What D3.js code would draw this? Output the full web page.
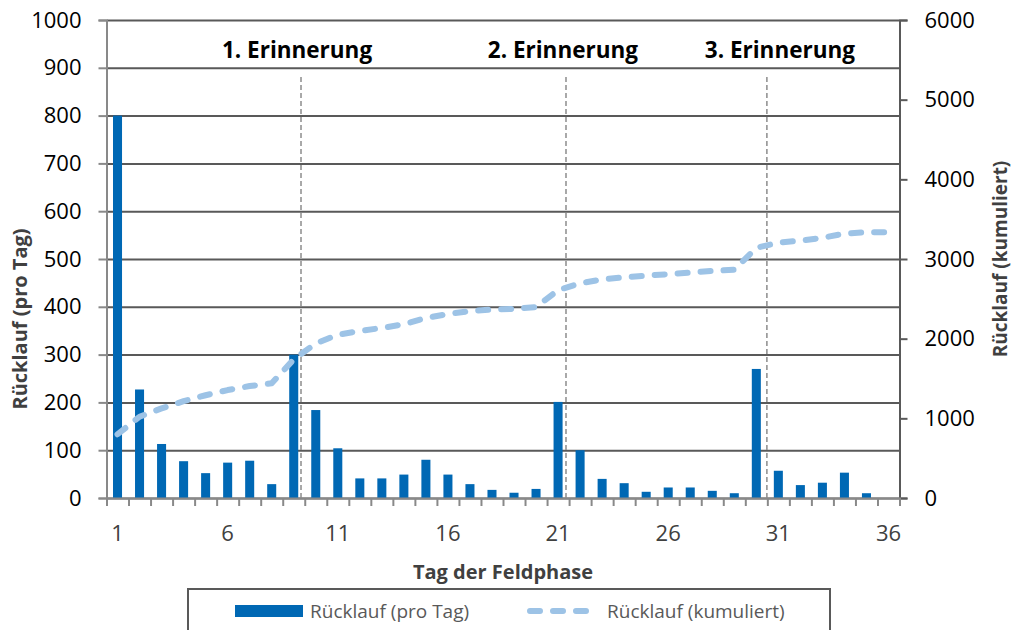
<!DOCTYPE html>
<html>
<head>
<meta charset="utf-8">
<script src="https://cdn.jsdelivr.net/npm/d3@7"></script>
<style>
  body { margin: 0; background: #fff; }
  svg { font-family: "Open Sans", sans-serif; }
</style>
</head>
<body>
<svg width="1014" height="630"></svg>
<script>
//days of the field phase (categories)
const days = [1, 2, 3, 4, 5, 6, 7, 8, 9, 10, 11, 12, 13, 14, 15, 16, 17, 18,
    19, 20, 21, 22, 23, 24, 25, 26, 27, 28, 29, 30, 31, 32, 33, 34, 35, 36];

//responses per day (left axis)
const perDay = [800, 227, 113, 77, 52, 74, 78, 29, 300, 184, 104, 41, 41, 49, 80, 49, 29, 17,
    11, 19, 201, 100, 40, 31, 13, 22, 22, 15, 10, 270, 57, 27, 32, 53, 10, 0];

//cumulated responses (right axis)
const cumulated = [800, 1020, 1125, 1215, 1290, 1355, 1405, 1440, 1740, 1940, 2050, 2095, 2135, 2180, 2260, 2310, 2345, 2365,
    2375, 2395, 2610, 2695, 2745, 2770, 2790, 2810, 2830, 2850, 2865, 3140, 3205, 3230, 3265, 3320, 3335, 3335];

//tick labels
const xTickLabels = [1, 6, 11, 16, 21, 26, 31, 36];
const leftTicks = [0, 100, 200, 300, 400, 500, 600, 700, 800, 900, 1000];
const rightTicks = [0, 1000, 2000, 3000, 4000, 5000, 6000];

//reminder markers (day position of the line, day position of the label)
const reminderNames = ['1. Erinnerung', '2. Erinnerung', '3. Erinnerung'];
const reminderDays = [9.33, 21.36, 30.48];
const reminderLabelDays = [9.15, 21.22, 31.07];

const svg = d3.select('svg');

//plot area
const plotLeft = 106.5, plotRight = 899.5, plotTop = 20, plotBottom = 498;

//scales
const xS = d3.scaleBand()
    .domain(days)
    .range([plotLeft, plotRight])
    .paddingInner(0.59)
    .paddingOuter(0.295);
const xPos = d3.scaleLinear().domain([0.5, 36.5]).range([plotLeft, plotRight]);
const yL = d3.scaleLinear().domain([0, 1000]).range([plotBottom, plotTop]);
const yR = d3.scaleLinear().domain([0, 6000]).range([plotBottom, plotTop]);

//horizontal gridlines
svg.append('g')
    .attr('transform', `translate(${plotLeft},0)`)
    .call(d3.axisLeft(yL).tickValues(leftTicks).tickSize(-(plotRight - plotLeft)).tickFormat(''))
    .call(g => g.select('.domain').remove())
    .call(g => g.selectAll('line').attr('stroke', '#595959').attr('stroke-width', 2));

//bars
svg.append('g')
    .selectAll('rect')
    .data(days)
    .enter()
    .append('rect')
    .attr('x', d => xS(d))
    .attr('width', xS.bandwidth())
    .attr('y', (d, i) => yL(perDay[i]))
    .attr('height', (d, i) => plotBottom - yL(perDay[i]))
    .attr('fill', '#0068b4');

//reminder dashed lines
svg.append('g')
    .selectAll('line')
    .data(reminderDays)
    .enter()
    .append('line')
    .attr('x1', d => xPos(d))
    .attr('x2', d => xPos(d))
    .attr('y1', 77)
    .attr('y2', plotBottom)
    .attr('stroke', '#8c8c8c')
    .attr('stroke-width', 1.5)
    .attr('stroke-dasharray', '5 3');

//reminder labels
svg.append('g')
    .selectAll('text')
    .data(reminderNames)
    .enter()
    .append('text')
    .attr('x', (d, i) => xPos(reminderLabelDays[i]))
    .attr('y', 58)
    .attr('text-anchor', 'middle')
    .attr('font-size', 22.5)
    .attr('font-weight', 'bold')
    .attr('fill', '#000')
    .text(d => d);

//left axis
svg.append('g')
    .attr('transform', `translate(${plotLeft},0)`)
    .call(d3.axisLeft(yL).tickValues(leftTicks).tickSize(8).tickPadding(17).tickFormat(d3.format('d')))
    .call(g => g.select('.domain').attr('stroke', '#898989').attr('stroke-width', 2))
    .call(g => g.selectAll('line').attr('stroke', '#898989').attr('stroke-width', 2))
    .call(g => g.selectAll('text').attr('font-size', 22).attr('fill', '#000').attr('font-family', '"Open Sans", sans-serif'));

//right axis
svg.append('g')
    .attr('transform', `translate(${plotRight},0)`)
    .call(d3.axisRight(yR).tickValues(rightTicks).tickSize(8).tickPadding(17).tickFormat(d3.format('d')))
    .call(g => g.select('.domain').attr('stroke', '#595959').attr('stroke-width', 2))
    .call(g => g.selectAll('line').attr('stroke', '#595959').attr('stroke-width', 2))
    .call(g => g.selectAll('text').attr('font-size', 22).attr('fill', '#000').attr('font-family', '"Open Sans", sans-serif'));

//bottom axis, ticks between the categories
svg.append('g')
    .attr('transform', `translate(0,${plotBottom})`)
    .call(d3.axisBottom(xPos).tickValues(d3.range(0.5, 37, 1)).tickSize(8).tickFormat(''))
    .call(g => g.select('.domain').attr('stroke', '#898989').attr('stroke-width', 2))
    .call(g => g.selectAll('line').attr('stroke', '#898989').attr('stroke-width', 2));

svg.append('g')
    .selectAll('text')
    .data(xTickLabels)
    .enter()
    .append('text')
    .attr('x', d => xPos(d))
    .attr('y', 541)
    .attr('text-anchor', 'middle')
    .attr('font-size', 22)
    .attr('fill', '#404040')
    .text(d => d);

//cumulated line
const line = d3.line()
    .x(d => xPos(d))
    .y((d, i) => yR(cumulated[i]));

svg.append('path')
    .datum(days)
    .attr('d', line)
    .attr('fill', 'none')
    .attr('stroke', '#9dc3e6')
    .attr('stroke-width', 6)
    .attr('stroke-linecap', 'round')
    .attr('stroke-linejoin', 'round')
    .attr('stroke-dasharray', '10 13');

//axis titles
svg.append('text')
    .attr('transform', 'translate(27,319) rotate(-90)')
    .attr('text-anchor', 'middle')
    .attr('font-size', 20)
    .attr('font-weight', 'bold')
    .attr('fill', '#404040')
    .text('Rücklauf (pro Tag)');

svg.append('text')
    .attr('transform', 'translate(1007,259) rotate(-90)')
    .attr('text-anchor', 'middle')
    .attr('font-size', 19)
    .attr('font-weight', 'bold')
    .attr('fill', '#404040')
    .text('Rücklauf (kumuliert)');

svg.append('text')
    .attr('x', 503)
    .attr('y', 579)
    .attr('text-anchor', 'middle')
    .attr('font-size', 20)
    .attr('font-weight', 'bold')
    .attr('fill', '#404040')
    .text('Tag der Feldphase');

//legend
const legend = svg.append('g');
legend.append('rect')
    .attr('x', 188)
    .attr('y', 589)
    .attr('width', 642)
    .attr('height', 50)
    .attr('fill', '#fff')
    .attr('stroke', '#595959')
    .attr('stroke-width', 2);
legend.append('rect')
    .attr('x', 235)
    .attr('y', 605)
    .attr('width', 68)
    .attr('height', 12)
    .attr('fill', '#0068b4');
legend.append('text')
    .attr('x', 310)
    .attr('y', 618)
    .attr('font-size', 19)
    .attr('fill', '#595959')
    .text('Rücklauf (pro Tag)');
legend.append('line')
    .attr('x1', 530)
    .attr('x2', 592)
    .attr('y1', 611)
    .attr('y2', 611)
    .attr('stroke', '#9dc3e6')
    .attr('stroke-width', 6)
    .attr('stroke-linecap', 'round')
    .attr('stroke-dasharray', '10 13');
legend.append('text')
    .attr('x', 607)
    .attr('y', 618)
    .attr('font-size', 19)
    .attr('fill', '#595959')
    .text('Rücklauf (kumuliert)');
</script>
</body>
</html>
